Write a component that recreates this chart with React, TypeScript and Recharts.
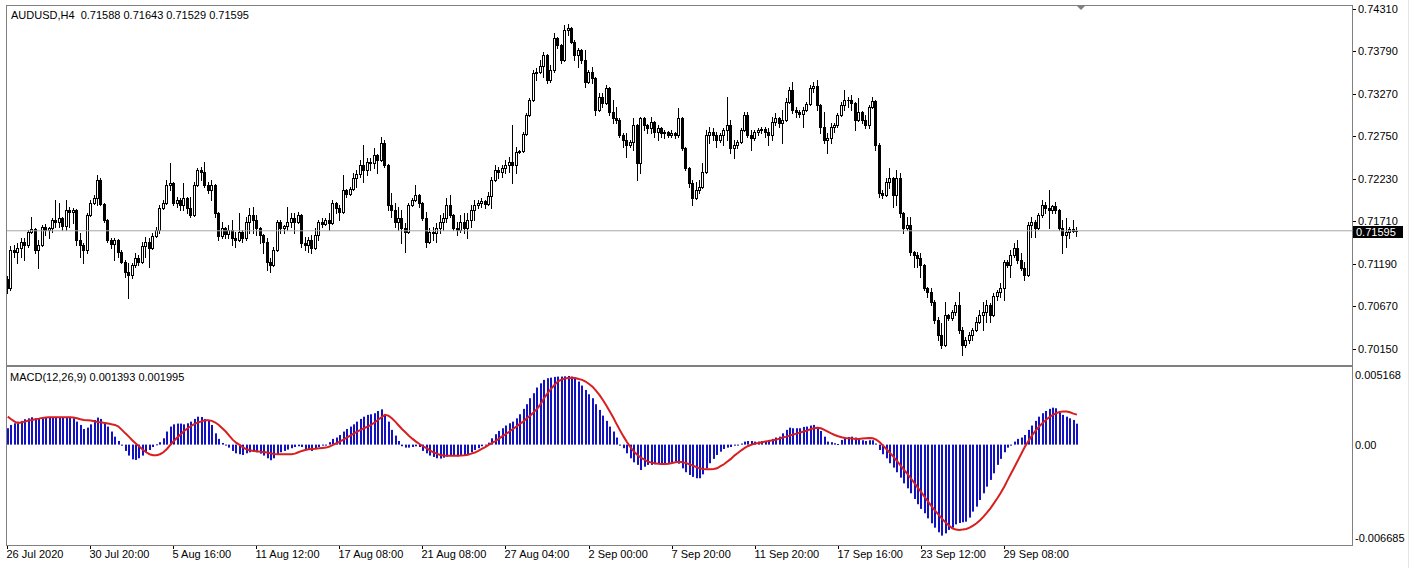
import React from 'react';
import { ComposedChart, Bar, Line, XAxis, YAxis, ReferenceLine } from 'recharts';

const FONT = '"Liberation Sans", Arial, sans-serif';
const SYMBOL = 'AUDUSD,H4';
const MACD_NAME = 'MACD(12,26,9)';

// AUDUSD H4 candles, prices in points (1 point = 0.00001)
const OPEN = [
  71005,70895,71360,71336,71385,71458,71421,71580,71617,71360,
  71421,71642,71605,71629,71727,71703,71752,71654,71850,71825,
  71850,71482,71421,71360,71788,71935,71996,72217,71923,71727,
  71482,71434,71482,71336,71213,71091,71054,71176,71262,71213,
  71409,71458,71385,71531,71605,71874,71935,72156,72180,71935,
  71972,71911,71996,71874,71788,72156,72339,72315,72156,72094,
  72156,71813,71531,71629,71556,71605,71507,71482,71580,71507,
  71703,71788,71727,71629,71544,71458,71213,71176,71360,71703,
  71629,71654,71703,71752,71703,71788,71446,71421,71482,71385,
  71544,71703,71678,71727,71690,71935,71874,71825,72094,72045,
  72107,72241,72290,72400,72339,72437,72425,72523,72462,72670,
  72400,71911,71850,71703,71752,71629,71580,71911,71972,72033,
  71935,71752,71458,71580,71568,71629,71703,71752,71911,71788,
  71629,71605,71703,71629,71727,71850,71911,71935,71960,71923,
  72021,72217,72339,72315,72364,72400,72437,72400,72560,72572,
  72780,73012,73196,73526,73539,73612,73747,73441,73563,73955,
  73869,73686,74053,74077,73906,73747,73808,73686,73416,73539,
  73465,73074,73233,73159,73343,73049,72976,72951,72768,72706,
  72645,72682,72890,72425,72976,72890,72853,72927,72804,72853,
  72792,72804,72768,72792,72768,72976,72608,72364,72180,71996,
  72094,72131,72315,72768,72804,72768,72706,72768,72829,72890,
  72608,72645,72682,72829,73012,72768,72731,72804,72829,72841,
  72804,72768,72927,72976,72915,72951,73172,73318,73074,73049,
  73025,73074,73147,73343,73367,73135,72866,72706,72731,72866,
  72890,73012,73135,73196,73196,73159,72951,73049,72951,72890,
  73110,73184,72645,72058,72033,72192,72241,72033,72241,71813,
  71629,71666,71336,71299,71262,71176,70895,70846,70723,70503,
  70320,70197,70564,70528,70601,70687,70381,70197,70258,70320,
  70381,70479,70564,70601,70687,70564,70797,70846,70895,71213,
  71176,71299,71385,71238,71140,71054,71666,71703,71629,71788,
  71911,71874,71850,71899,71850,71629,71544,71580,71617,71588,
];
const HIGH = [
  71042,71409,71421,71446,71507,71507,71605,71764,71629,71482,
  71666,71678,71642,71752,71972,71935,71764,71972,71886,71874,
  71862,71568,71446,71813,71972,72033,72278,72241,71935,71739,
  71507,71507,71495,71360,71238,71201,71201,71323,71299,71458,
  71519,71507,71568,71642,71911,71972,72217,72425,72192,72009,
  71996,72180,72009,72009,72192,72364,72376,72437,72192,72217,
  72168,71825,71703,71642,71666,71727,71580,71813,71605,71764,
  71874,71886,71788,71642,71556,71507,71262,71397,71727,71727,
  71666,71886,71813,71813,71825,71801,71519,71519,71544,71629,
  71727,71752,71752,71813,71972,71947,71911,72278,72107,72131,
  72303,72339,72462,72645,72486,72486,72608,72535,72743,72706,
  72413,72058,71935,71886,71850,71690,71935,71996,72156,72045,
  71947,71825,71629,71642,71690,71788,71813,71996,72033,71801,
  71703,71788,71813,71813,71911,71972,71972,71996,71972,72070,
  72254,72400,72376,72400,72462,72498,72890,72621,72584,72804,
  73037,73220,73563,73588,73686,73784,73759,73624,74016,73967,
  73881,74114,74126,74090,73930,73832,73820,73808,73563,73600,
  73478,73282,73282,73380,73355,73196,73110,72976,72792,72792,
  72706,72976,72902,72988,72988,72902,72988,72939,72890,72866,
  72829,72817,72829,72804,73098,72988,72621,72376,72217,72192,
  72217,72425,72829,72866,72853,72804,72792,72853,73233,72951,
  72706,72706,72853,73049,73049,72829,72829,72853,72866,72866,
  72853,72988,73037,72988,73074,73220,73355,73416,73110,73074,
  73110,73172,73380,73416,73441,73147,73049,72792,72915,72915,
  73037,73172,73318,73233,73257,73172,73220,73061,73012,73135,
  73233,73196,72670,72094,72241,72364,72254,72339,72303,71825,
  71764,71764,71348,71336,71323,71189,70907,70895,70748,70540,
  70467,70723,70577,70626,70723,70846,70418,70295,70356,70405,
  70540,70626,70723,70748,70711,70834,70870,70956,71238,71238,
  71360,71446,71482,71323,71213,71703,71764,71727,71813,71972,
  71947,72094,71911,71947,71862,71727,71752,71642,71727,71643,
];
const LOW = [
  70833,70870,71274,71201,71274,71238,71397,71568,71323,71140,
  71409,71544,71507,71580,71642,71642,71605,71605,71642,71690,
  71421,71274,71201,71323,71776,71923,71911,71911,71703,71458,
  71385,71238,71274,71201,71029,70772,71017,71152,71176,71201,
  71274,71152,71372,71519,71568,71862,71923,72094,71911,71886,
  71850,71850,71813,71764,71776,72143,72217,72131,72058,71972,
  71764,71482,71507,71507,71507,71421,71397,71470,71458,71482,
  71568,71568,71544,71446,71323,71115,71091,71164,71348,71568,
  71568,71605,71642,71568,71690,71397,71360,71336,71323,71372,
  71482,71642,71666,71605,71678,71813,71727,71813,72009,72033,
  72094,72131,72254,72192,72278,72339,72364,72303,72450,72376,
  71850,71764,71642,71605,71446,71336,71568,71899,71960,71886,
  71727,71397,71446,71482,71458,71568,71605,71703,71764,71605,
  71544,71580,71568,71507,71642,71727,71874,71886,71874,71911,
  71874,72205,72241,72254,72303,72315,72180,72303,72547,72560,
  72768,73000,73184,73441,73526,73478,73404,73416,73539,73832,
  73649,73674,73992,73894,73686,73600,73649,73355,73404,73404,
  73012,73061,73110,73147,73012,72915,72915,72743,72621,72498,
  72621,72584,72217,72303,72829,72792,72792,72743,72706,72743,
  72731,72743,72743,72731,72743,72584,72339,72131,71911,71984,
  72058,72119,72303,72670,72706,72621,72682,72645,72706,72547,
  72486,72608,72670,72817,72743,72584,72706,72768,72792,72743,
  72645,72706,72890,72866,72670,72939,73159,73037,72988,72988,
  72866,73061,73135,73294,73074,72792,72670,72547,72670,72804,
  72866,73000,73074,73110,73074,72829,72939,72915,72853,72853,
  73098,72584,72009,71996,72021,72119,71886,71911,71764,71568,
  71605,71299,71152,71152,71029,70870,70784,70687,70467,70258,
  70160,70185,70503,70503,70564,70344,70075,70173,70222,70258,
  70369,70467,70381,70479,70479,70552,70748,70784,70748,71152,
  71029,71274,71201,71115,70993,71042,71519,71519,71617,71764,
  71813,71629,71813,71813,71605,71323,71397,71507,71580,71529,
];
const CLOSE = [
  70895,71360,71336,71385,71458,71421,71580,71617,71360,71421,
  71642,71605,71629,71727,71703,71752,71654,71850,71825,71850,
  71482,71421,71360,71788,71935,71996,72217,71923,71727,71482,
  71434,71482,71336,71213,71091,71054,71176,71262,71213,71409,
  71458,71385,71531,71605,71874,71935,72156,72180,71935,71972,
  71911,71996,71874,71788,72156,72339,72315,72156,72094,72156,
  71813,71531,71629,71556,71605,71507,71482,71580,71507,71703,
  71788,71727,71629,71544,71458,71213,71176,71360,71703,71629,
  71654,71703,71752,71703,71788,71446,71421,71482,71385,71544,
  71703,71678,71727,71690,71935,71874,71825,72094,72045,72107,
  72241,72290,72400,72339,72437,72425,72523,72462,72670,72400,
  71911,71850,71703,71752,71629,71580,71911,71972,72033,71935,
  71752,71458,71580,71568,71629,71703,71752,71911,71788,71629,
  71605,71703,71629,71727,71850,71911,71935,71960,71923,72021,
  72217,72339,72315,72364,72400,72437,72400,72560,72572,72780,
  73012,73196,73526,73539,73612,73747,73441,73563,73955,73869,
  73686,74053,74077,73906,73747,73808,73686,73416,73539,73465,
  73074,73233,73159,73343,73049,72976,72951,72768,72706,72645,
  72682,72890,72425,72976,72890,72853,72927,72804,72853,72792,
  72804,72768,72792,72768,72976,72608,72364,72180,71996,72094,
  72131,72315,72768,72804,72768,72706,72768,72829,72890,72608,
  72645,72682,72829,73012,72768,72731,72804,72829,72841,72804,
  72768,72927,72976,72915,72951,73172,73318,73074,73049,73025,
  73074,73147,73343,73367,73135,72866,72706,72731,72866,72890,
  73012,73135,73196,73196,73159,72951,73049,72951,72890,73110,
  73184,72645,72058,72033,72192,72241,72033,72241,71813,71629,
  71666,71336,71299,71262,71176,70895,70846,70723,70503,70320,
  70197,70564,70528,70601,70687,70381,70197,70258,70320,70381,
  70479,70564,70601,70687,70564,70797,70846,70895,71213,71176,
  71299,71385,71238,71140,71054,71666,71703,71629,71788,71911,
  71874,71850,71899,71850,71629,71544,71580,71617,71588,71595,
];

// MACD(12,26,9) main (histogram) and signal, in millionths
const MACD_MAIN = [
  1090,1310,1420,1530,1580,1690,1750,1820,1750,1710,
  1750,1800,1800,1800,1820,1820,1820,1820,1820,1750,
  1530,1310,1040,1130,1350,1640,1800,1710,1490,1200,
  870,530,240,-70,-420,-730,-980,-1020,-910,-730,
  -510,-360,-160,20,160,420,870,1200,1350,1400,
  1400,1350,1420,1530,1710,1860,1840,1710,1580,1310,
  750,380,110,-20,-200,-420,-580,-640,-690,-580,
  -510,-470,-510,-600,-730,-910,-1040,-910,-690,-510,
  -420,-330,-240,-160,-110,-160,-290,-330,-420,-290,
  -160,-70,-20,160,380,470,640,870,1040,1200,
  1350,1530,1710,1860,1980,2020,2090,2240,2350,1980,
  1530,980,600,240,-110,-200,-200,-160,-110,-160,
  -420,-580,-730,-820,-910,-930,-870,-800,-730,-730,
  -780,-730,-690,-640,-510,-360,-240,-110,-20,130,
  420,690,910,1090,1270,1420,1530,1750,2020,2380,
  2690,3090,3420,3800,4080,4310,4420,4460,4510,4530,
  4530,4550,4570,4530,4370,4200,3930,3640,3350,3090,
  2690,2310,1930,1580,1200,870,470,-20,-240,-580,
  -910,-1180,-1350,-1690,-1470,-1350,-1350,-1310,-1270,-1270,
  -1240,-1220,-1180,-1130,-1270,-1580,-1840,-2020,-2150,-2240,
  -2240,-1980,-1580,-1240,-950,-690,-470,-290,-200,-160,
  -70,-20,70,200,240,240,200,200,240,240,
  310,380,470,530,750,980,1130,1090,1090,1090,
  1180,1200,1270,1310,1040,910,530,200,160,90,
  40,310,470,510,530,470,380,290,240,290,
  290,70,-360,-640,-910,-1240,-1530,-1840,-2200,-2580,
  -2910,-3240,-3620,-3970,-4280,-4570,-4910,-5240,-5530,-5840,
  -6060,-5910,-5680,-5530,-5310,-5220,-5170,-5130,-4860,-4460,
  -4130,-3690,-3240,-2800,-2350,-1910,-1350,-950,-510,-200,
  -20,200,380,470,640,980,1270,1580,1860,2090,
  2240,2380,2460,2420,2150,1980,1860,1750,1640,1393,
];
const MACD_SIGNAL = [
  1860,1690,1530,1420,1490,1530,1600,1640,1690,1730,
  1780,1800,1820,1820,1820,1820,1820,1820,1820,1800,
  1750,1690,1640,1620,1600,1550,1510,1490,1440,1400,
  1350,1310,1200,980,750,530,290,70,-130,-330,
  -510,-640,-710,-710,-640,-510,-290,-20,240,470,
  690,910,1090,1240,1380,1470,1550,1620,1620,1580,
  1470,1310,1090,870,600,330,130,-20,-180,-310,
  -380,-420,-440,-470,-490,-530,-580,-620,-640,-640,
  -640,-640,-640,-600,-510,-420,-360,-310,-290,-270,
  -240,-220,-200,-130,-20,90,200,330,470,600,
  730,870,980,1090,1200,1310,1470,1640,1820,1980,
  1930,1750,1530,1270,1020,800,580,380,200,40,
  -110,-240,-380,-510,-600,-690,-730,-750,-750,-750,
  -750,-730,-710,-670,-600,-530,-420,-290,-160,-20,
  110,240,400,560,710,870,1040,1200,1380,1530,
  1750,1930,2150,2380,2690,3090,3420,3710,3970,4200,
  4330,4400,4440,4460,4440,4370,4310,4200,4040,3860,
  3600,3310,2970,2600,2200,1800,1350,930,530,160,
  -180,-470,-690,-870,-1000,-1130,-1200,-1240,-1270,-1290,
  -1290,-1270,-1220,-1180,-1150,-1180,-1220,-1310,-1400,-1490,
  -1580,-1620,-1640,-1640,-1620,-1580,-1440,-1310,-1130,-950,
  -730,-560,-380,-220,-90,0,70,110,160,200,
  240,290,330,400,470,530,600,670,730,800,
  870,930,1020,1090,1130,1090,980,870,750,640,
  560,490,440,420,400,380,380,400,420,440,
  420,330,160,-70,-310,-560,-820,-1090,-1380,-1670,
  -1950,-2240,-2550,-2860,-3170,-3490,-3800,-4110,-4400,-4660,
  -4930,-5170,-5390,-5570,-5660,-5680,-5660,-5620,-5530,-5390,
  -5240,-5040,-4800,-4530,-4240,-3910,-3570,-3200,-2800,-2350,
  -1910,-1470,-1020,-580,-130,240,600,910,1180,1420,
  1640,1820,1980,2090,2180,2200,2200,2150,2060,1995,
];

const TIME_LABELS = [
  '26 Jul 2020', '30 Jul 20:00', '5 Aug 16:00', '11 Aug 12:00', '17 Aug 08:00',
  '21 Aug 08:00', '27 Aug 04:00', '2 Sep 00:00', '7 Sep 20:00', '11 Sep 20:00',
  '17 Sep 16:00', '23 Sep 12:00', '29 Sep 08:00',
];
const TIME_LABEL_BARS = [0, 24, 48, 72, 96, 120, 144, 168, 192, 216, 240, 264, 288];
const PRICE_TICKS = [0.7431, 0.7379, 0.7327, 0.7275, 0.7223, 0.7171, 0.7119, 0.7067, 0.7015];
const PRICE_DOMAIN = [0.69952, 0.74359];
const MACD_TICKS = [0.005168, 0, -0.006685];
const MACD_DOMAIN = [-0.006685, 0.005168];
const LAST_PRICE = 0.71595;
const TOTAL_SLOTS = 389; // bars plus the empty chart-shift space on the right

const HIST_COLOR = '#1212c0';
const SIGNAL_COLOR = '#d81e1e';
const FRAME = '#808080';

const rows: any[] = [];
for (let i = 0; i < TOTAL_SLOTS; i++) {
  if (i < CLOSE.length) {
    rows.push({
      i,
      open: OPEN[i] / 1e5,
      high: HIGH[i] / 1e5,
      low: LOW[i] / 1e5,
      close: CLOSE[i] / 1e5,
      macd: MACD_MAIN[i] / 1e6,
      signal: MACD_SIGNAL[i] / 1e6,
    });
  } else {
    rows.push({ i });
  }
}

const rangeKey = (d: any) => (d.high == null ? undefined : [d.low, d.high]);

const Candle = (p: any) => {
  const { x, y, width, height, payload } = p;
  if (!payload || payload.high == null || x == null || y == null) return null;
  const { open, close, high, low } = payload;
  const top = Math.min(y, y + height);
  const h = Math.abs(height);
  const span = high - low;
  const py = (v: number) => (span > 0 ? top + ((high - v) / span) * h : top);
  const cx = Math.floor(x + width / 2) + 0.5;
  const yo = py(open);
  const yc = py(close);
  const bTop = Math.round(Math.min(yo, yc)) + 0.5;
  const bBot = Math.round(Math.max(yo, yc)) + 0.5;
  const bull = close >= open;
  return (
    <g>
      <line x1={cx} x2={cx} y1={Math.round(top)} y2={Math.round(top + h) + 1} stroke="#000" strokeWidth={1} />
      {bBot - bTop < 1 ? (
        <line x1={cx - 1.5} x2={cx + 1.5} y1={bTop} y2={bTop} stroke="#000" strokeWidth={1} />
      ) : (
        <rect x={cx - 1} y={bTop} width={2} height={bBot - bTop} fill={bull ? '#fff' : '#000'} stroke="#000" strokeWidth={1} />
      )}
    </g>
  );
};

const HistBar = (p: any) => {
  const { x, y, width, height } = p;
  if (x == null || y == null || height == null) return null;
  const top = Math.min(y, y + height);
  const h = Math.abs(height);
  if (h < 0.3) return null;
  return <rect x={Math.floor(x + width / 2)} y={top} width={2} height={Math.max(h, 1)} fill={HIST_COLOR} />;
};

const PriceTick = (p: any) => {
  const yy = Math.round(p.y) + 0.5;
  return (
    <g>
      <line x1={p.x} x2={p.x + 4} y1={yy} y2={yy} stroke="#000" strokeWidth={1} />
      <text x={p.x + 6} y={p.y + 4} fontSize={11} fontFamily={FONT} fill="#000">
        {Number(p.payload.value).toFixed(5)}
      </text>
    </g>
  );
};

const MacdTick = (p: any) => {
  const v = Number(p.payload.value);
  const dy = v > 0 ? 12 : v < 0 ? -3 : 4;
  const label = v === 0 ? '0.00' : v.toFixed(6);
  return (
    <text x={p.x + 3} y={p.y + dy} fontSize={11} fontFamily={FONT} fill="#000">
      {label}
    </text>
  );
};

const TimeTick = (p: any) => {
  const k = TIME_LABEL_BARS.indexOf(Number(p.payload.value));
  if (k < 0) return null;
  const x = Math.floor(p.x) + 0.5;
  return (
    <g>
      <line x1={x} x2={x} y1={p.y} y2={p.y + 4} stroke="#000" strokeWidth={1} />
      <text x={x - 1} y={p.y + 13} fontSize={11} fontFamily={FONT} fill="#000">
        {TIME_LABELS[k]}
      </text>
    </g>
  );
};

const PriceBox = (p: any) => {
  const vb = p.viewBox;
  if (!vb) return null;
  const x = vb.x + vb.width;
  const y = vb.y;
  return (
    <g>
      <rect x={x + 1} y={Math.round(y) - 5} width={50} height={12} fill="#000" />
      <text x={x + 4} y={y + 5} fontSize={11} fontFamily={FONT} fill="#fff">
        {LAST_PRICE.toFixed(5)}
      </text>
    </g>
  );
};

const fmt5 = (v: number) => (v / 1e5).toFixed(5);
const fmt6 = (v: number) => (v / 1e6).toFixed(6);
const LAST = CLOSE.length - 1;
const PRICE_HEADER = `${SYMBOL}\u00a0\u00a0${fmt5(OPEN[LAST])} ${fmt5(HIGH[LAST])} ${fmt5(LOW[LAST])} ${fmt5(CLOSE[LAST])}`;
const MACD_HEADER = `${MACD_NAME} ${fmt6(MACD_MAIN[LAST])} ${fmt6(MACD_SIGNAL[LAST])}`;

export default function App() {
  return (
    <div
      style={{
        position: 'absolute',
        left: 0,
        top: 0,
        width: 1418,
        height: 568,
        background: '#fff',
        overflow: 'hidden',
        fontFamily: FONT,
      }}
    >
      <div style={{ position: 'absolute', left: 0, top: 0 }}>
        <ComposedChart width={1418} height={368} data={rows} margin={{ top: 5, right: 0, bottom: 3, left: 6 }}>
          <XAxis dataKey="i" hide />
          <YAxis
            orientation="right"
            width={66}
            domain={PRICE_DOMAIN}
            allowDataOverflow
            ticks={PRICE_TICKS}
            interval={0}
            tick={<PriceTick />}
            tickSize={0}
            tickMargin={0}
            axisLine={false}
            tickLine={false}
          />
          <ReferenceLine y={LAST_PRICE} stroke="#a8a8a8" strokeWidth={1} label={<PriceBox />} />
          <Bar dataKey={rangeKey} barSize={3} shape={(p: any) => <Candle {...p} />} isAnimationActive={false} />
        </ComposedChart>
      </div>
      <div style={{ position: 'absolute', left: 0, top: 360 }}>
        <ComposedChart width={1418} height={208} data={rows} margin={{ top: 7, right: 0, bottom: 0, left: 6 }}>
          <XAxis
            dataKey="i"
            height={23}
            ticks={TIME_LABEL_BARS}
            interval={0}
            tick={<TimeTick />}
            tickSize={0}
            tickMargin={0}
            axisLine={false}
            tickLine={false}
          />
          <YAxis
            orientation="right"
            width={66}
            domain={MACD_DOMAIN}
            allowDataOverflow
            ticks={MACD_TICKS}
            interval={0}
            tick={<MacdTick />}
            tickSize={0}
            tickMargin={0}
            axisLine={false}
            tickLine={false}
          />
          <Bar dataKey="macd" barSize={3} shape={(p: any) => <HistBar {...p} />} isAnimationActive={false} />
          <Line
            dataKey="signal"
            type="linear"
            stroke={SIGNAL_COLOR}
            strokeWidth={2}
            dot={false}
            activeDot={false}
            isAnimationActive={false}
          />
        </ComposedChart>
      </div>
      <svg width={1418} height={568} style={{ position: 'absolute', left: 0, top: 0, pointerEvents: 'none' }}>
        <rect x={6.5} y={5.5} width={1346} height={360} fill="none" stroke={FRAME} strokeWidth={1} />
        <rect x={6.5} y={366.5} width={1346} height={179} fill="none" stroke={FRAME} strokeWidth={1} />
        <line x1={1408.5} x2={1408.5} y1={0} y2={568} stroke="#e6e6e6" strokeWidth={1} />
        <polygon points="1077,6 1085,6 1081,10" fill="#808080" />
        <text x={11} y={19} fontSize={11} fontFamily={FONT} fill="#000">
          {PRICE_HEADER}
        </text>
        <text x={10} y={381} fontSize={11} fontFamily={FONT} fill="#000">
          {MACD_HEADER}
        </text>
      </svg>
    </div>
  );
}
